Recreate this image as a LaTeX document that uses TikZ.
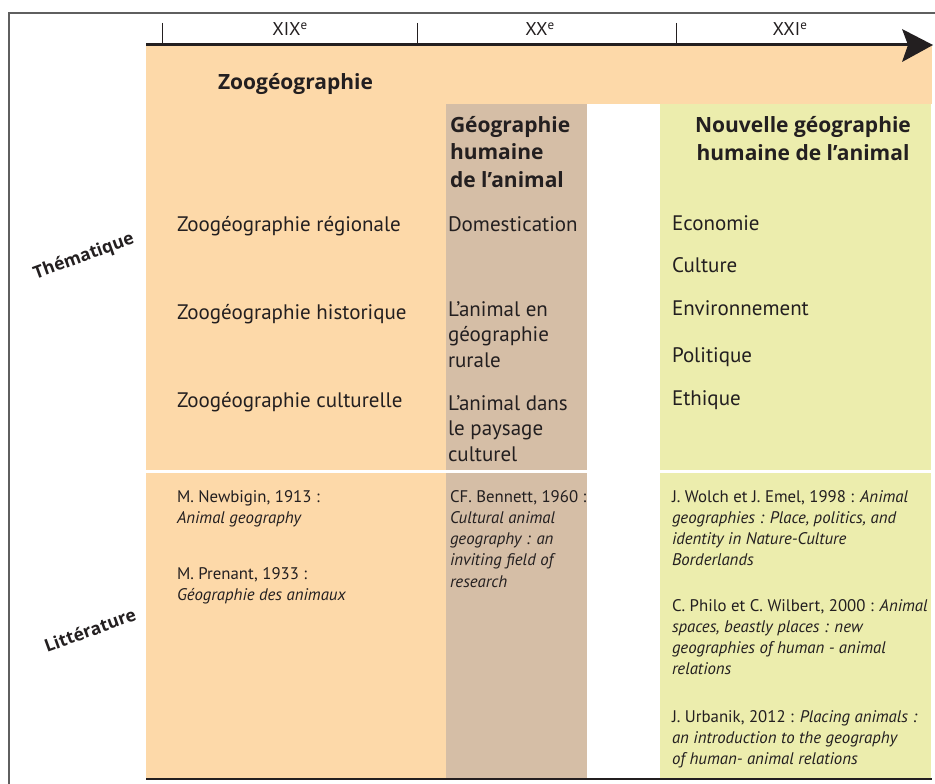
\documentclass[tikz,border=0pt]{standalone}
\usepackage{fontspec}
\setmainfont{PT Sans}
\newfontfamily\hdfam{Open Sans}
\definecolor{orng}{RGB}{253,217,169}
\definecolor{brwn}{RGB}{213,190,166}
\definecolor{grn}{RGB}{236,237,173}
\definecolor{ink}{RGB}{35,31,32}
\definecolor{framegray}{RGB}{95,95,95}
\newcommand{\thfont}{\fontsize{21}{25.5}\selectfont}
\newcommand{\litfont}{\fontsize{16.8}{21.3}\selectfont}
\newcommand{\hdfont}{\fontsize{21}{27.5}\selectfont\hdfam\bfseries}
\begin{document}
\begin{tikzpicture}[x=1pt,y=-1pt,
  every node/.style={inner sep=0pt, outer sep=0pt, text=ink},
  them/.style={anchor=base west, align=left, font=\thfont},
  lit/.style={anchor=base west, align=left, font=\litfont},
  head/.style={anchor=base west, align=left, font=\hdfont},
  cent/.style={anchor=base, font=\fontsize{18.5}{22}\selectfont},
  side/.style={font=\fontsize{17.5}{20}\selectfont\hdfam\bfseries, rotate=20},
  tick/.style={ink, line width=1pt}]
\useasboundingbox (0,0) rectangle (935,784);
\fill[white] (0,0) rectangle (935,784);
% frame
\draw[framegray, line width=1.5pt] (9,784) -- (9,13) -- (935,13);
% colour fields
\fill[orng] (146,46) rectangle (932,104);
\fill[orng] (146,104) rectangle (446,779);
\fill[brwn] (446,104) rectangle (587,779);
\fill[grn] (660,104) rectangle (931,779);
% separator between thematic and literature
\draw[white, line width=3pt] (146,471) -- (587,471);
\draw[white, line width=3pt] (660,471) -- (931,471);
% bottom rule
\draw[ink, line width=2pt] (146,779) -- (932,779);
% timeline
\coordinate (tl0) at (146,45);
\coordinate (tl1) at (908,45);
\coordinate (tip) at (933,45);
\draw[ink, line width=3pt] (tl0) -- (tl1);
\fill[ink] (tip) -- (902,29) -- (908,45) -- (902,62) -- cycle;
\foreach \x/\n in {162/a,417/b,676/c}{
  \coordinate (t\n) at (\x,23);
  \draw[tick] (t\n) -- (\x,45);
}
\node[cent] (c19) at (290,36) {XIX\textsuperscript{e}};
\node[cent] (c20) at (540,36) {XX\textsuperscript{e}};
\node[cent] (c21) at (790,36) {XXI\textsuperscript{e}};
% headers (base anchor = baseline of last line)
\node[head] (hzoo) at (218,90) {Zoogéographie};
\node[head] (hghu) at (450,187) {Géographie\\humaine\\de l’animal};
\node[anchor=base, align=center, font=\hdfont] (hnou) at (803,160) {Nouvelle géographie\\humaine de l’animal};
% side labels
\node[side] (sth) at (84,257) {Thématique};
\node[side] (sli) at (90,630) {Littérature};
% thematic, orange
\node[them] (z1) at (177,231) {Zoogéographie régionale};
\node[them] (z2) at (177,319) {Zoogéographie historique};
\node[them] (z3) at (177,407) {Zoogéographie culturelle};
% thematic, brown
\node[them] (b1) at (448,231) {Domestication};
\node[them] (b2) at (448,367) {L’animal en\\géographie\\rurale};
\node[them] (b3) at (448,461) {L’animal dans\\le paysage\\culturel};
% thematic, green
\node[them] (g1) at (672,230) {Economie};
\node[them] (g2) at (672,272) {Culture};
\node[them] (g3) at (672,315) {Environnement};
\node[them] (g4) at (672,362) {Politique};
\node[them] (g5) at (672,405) {Ethique};
% literature
\node[lit] (l1) at (177,523.3) {M. Newbigin, 1913 :\\\textit{Animal geography}};
\node[lit] (l2) at (177,600.3) {M. Prenant, 1933 :\\\textit{Géographie des animaux}};
\node[lit] (l3) at (450,587.2) {CF. Bennett, 1960 :\\\textit{Cultural animal}\\\textit{geography : an}\\\textit{inviting field of}\\\textit{research}};
\node[lit] (l4) at (672,565.9) {J. Wolch et J. Emel, 1998 : \textit{Animal}\\\textit{geographies : Place, politics, and}\\\textit{identity in Nature-Culture}\\\textit{Borderlands}};
\node[lit] (l5) at (672,674.9) {C. Philo et C. Wilbert, 2000 : \textit{Animal}\\\textit{spaces, beastly places : new}\\\textit{geographies of human - animal}\\\textit{relations}};
\node[lit] (l6) at (672,764.6) {J. Urbanik, 2012 : \textit{Placing animals :}\\\textit{an introduction to the geography}\\\textit{of human- animal relations}};
\end{tikzpicture}
\end{document}
